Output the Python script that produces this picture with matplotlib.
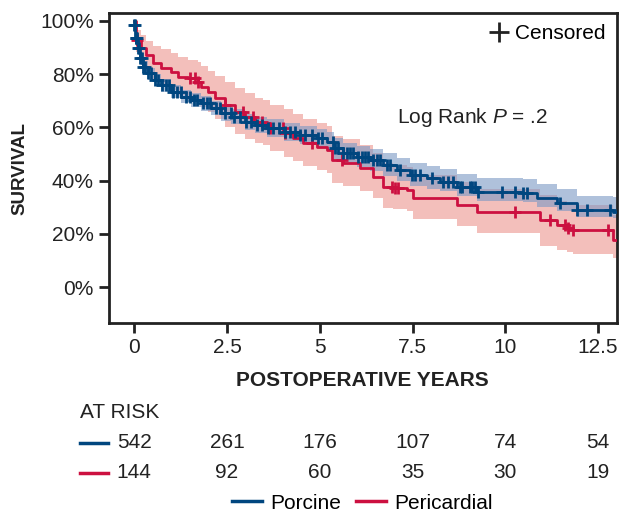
#!/usr/bin/env python3
"""
Kaplan-Meier survival, porcine vs pericardial valves, with at-risk table.
Output: out.png
"""

import matplotlib
matplotlib.use("Agg")
import matplotlib.pyplot as plt
import matplotlib.transforms as mtransforms
from matplotlib.lines import Line2D
import numpy as np

plt.rcParams["font.family"] = ["Liberation Sans", "DejaVu Sans"]
plt.rcParams["mathtext.fontset"] = "custom"
plt.rcParams["mathtext.rm"] = "Liberation Sans"
plt.rcParams["mathtext.it"] = "Liberation Sans:italic"

BLUE = "#00467f"
RED = "#cc1040"
BLUE_BAND = "#7a98c4"
RED_BAND = "#ec958e"
INK = "#222222"
FS = 15

MAX_FOLLOWUP = 13.0

# --- porcine (survival %, step knots, 95% band) ---
porcine_t = [0, 0.03, 0.09, 0.15, 0.23, 0.37, 0.55, 0.73, 1.0, 1.27, 1.54, 1.81, 2.08,
             2.35, 2.62, 2.98, 3.25, 3.58, 4.03, 4.47, 4.92, 5.19, 5.37, 5.63, 5.99,
             6.35, 6.71, 7.07, 7.43, 7.88, 8.24, 8.7, 9.23, 10.47, 10.85, 11.4, 11.94,
             12.9]
porcine_s = [98.5, 93.5, 89.7, 86, 82.8, 80.3, 77.8, 75.9, 73.4, 71.5, 70.3, 69, 67.2,
             65.3, 64, 62.1, 60.9, 59.7, 58.4, 57.1, 55.9, 54.6, 52.1, 50.3, 49,
             47.7, 45.9, 44, 42.1, 40.9, 39.5, 37.6, 35.7, 35.3, 33.5, 31.6, 29,
             28.2]
porcine_lo = [97.5, 91.5, 87.5, 83.5, 80.5, 78, 75.5, 73.5, 71, 69, 67.7, 66.3, 64.5,
              62.5, 61.2, 59.2, 57.8, 56.5, 55, 53.6, 52.3, 51, 48.3, 46.4, 45,
              43.6, 41.7, 39.9, 38, 37, 36, 34.2, 32.4, 32, 30.2, 28.5, 26.2,
              25.8]
porcine_hi = [99.5, 95.5, 92, 88.5, 85, 82.5, 80, 78.3, 76, 74, 73, 71.7, 70,
              68.2, 67, 65.1, 64, 63, 61.8, 60.6, 59.5, 58.3, 56, 54.3, 53,
              51.9, 50.2, 48.4, 46.6, 45.5, 44.5, 42.5, 41, 40.5, 38.8, 37, 34.3,
              33.8]
porcine_cens = [0, 0.02, 0.04, 0.06, 0.08, 0.1, 0.13, 0.16, 0.2, 0.25, 0.3, 0.38, 0.45,
                0.55, 0.65, 0.75, 0.85, 0.95, 1.05, 1.15, 1.25, 1.4, 1.5, 1.6, 1.7, 1.85,
                1.95, 2.05, 2.2, 2.3, 2.45, 2.6, 2.7, 2.85, 3.0, 3.15, 3.3, 3.45, 3.6,
                3.75, 3.9, 4.05, 4.2, 4.33, 4.47, 4.6, 4.79, 4.95, 5.06, 5.36, 5.41,
                5.49, 5.63, 5.73, 5.82, 5.9, 6.03, 6.14, 6.22, 6.3, 6.44, 6.54, 6.62,
                6.81, 6.89, 7.16, 7.48, 7.56, 7.7, 8.03, 8.32, 8.46, 8.59, 8.78, 8.83,
                9.05, 9.1, 9.18, 9.26, 9.91, 10.26, 10.47, 10.58, 11.47, 11.94, 12.21,
                12.82]

# --- pericardial ---
peri_t = [0, 0.06, 0.19, 0.32, 0.5, 0.73, 1.0, 1.18, 1.45, 1.72, 1.81, 1.99, 2.17,
          2.44, 2.71, 2.98, 3.25, 3.48, 3.66, 4.03, 4.29, 4.56, 4.92, 5.19, 5.32,
          5.63, 6.09, 6.44, 6.71, 6.98, 7.34, 7.52, 8.7, 9.23, 10.93, 11.4, 11.66,
          11.83, 12.9]
peri_s = [100, 92.9, 89.7, 87.2, 84.1, 82.2, 80.9, 79, 78.4, 77.2, 75.3, 73.4, 70.9,
          68.4, 65.9, 64, 62.1, 61.5, 59.7, 57.8, 55.9, 54, 52.7, 51.5, 47.7,
          46.5, 44.6, 41.5, 37.7, 37.1, 36.5, 33.3, 30.8, 28.2, 25.2, 23.3, 22.2,
          21.4, 17.7]
peri_lo = [100, 88.5, 84.5, 81.5, 78, 75.5, 74, 72, 71.3, 69.8, 67.8, 65.8, 63,
           60.2, 57.5, 55.5, 54, 53.5, 51.3, 49, 47.3, 45.5, 44, 42.8, 39.2,
           38, 36.2, 33.3, 29.8, 29.2, 28.6, 25.6, 23, 20.5, 15.5, 14, 13,
           12.5, 11]
peri_hi = [100, 96.5, 94.7, 92.5, 90.5, 89.5, 87.8, 86.5, 85.5, 84.5, 83, 81.3, 79.2,
           77, 75, 73, 71, 70.3, 68.5, 66.8, 65, 63, 61.7, 60.5, 56.8,
           55.5, 53.5, 50.5, 46.5, 46, 45.3, 42, 39.5, 37, 34.5, 32.5, 31.5,
           30.8, 27]
peri_cens = [0.08, 1.5, 1.64, 1.72, 2.45, 2.93, 3.2, 3.44, 3.66, 4.0, 4.06, 4.79, 5.6,
             6.95, 7.03, 7.11, 10.26, 11.2, 11.6, 11.69, 11.83, 12.77]

risk_times = [0, 2.5, 5, 7.5, 10, 12.5]
porcine_risk = [542, 261, 176, 107, 74, 54]
peri_risk = [144, 92, 60, 35, 30, 19]


def step_value(t_knots, s_knots, t):
    idx = np.searchsorted(t_knots, t, side="right") - 1
    return np.asarray(s_knots)[np.clip(idx, 0, len(s_knots) - 1)]


def draw_group(ax, t, s, lo, hi, cens, color, band, band_alpha, z):
    tt = list(t) + [MAX_FOLLOWUP]
    ax.fill_between(tt, list(lo) + [lo[-1]], list(hi) + [hi[-1]], step="post",
                    color=band, alpha=band_alpha, linewidth=0, zorder=z)
    ax.step(tt, list(s) + [s[-1]], where="post", color=color, linewidth=2, zorder=z + 2)
    cy = step_value(t, s, np.asarray(cens))
    ax.plot(cens, cy, linestyle="none", marker="+", markersize=8, mew=2,
            color=color, zorder=z + 3)


fig = plt.figure(figsize=(6.21, 5.14), dpi=100)
ax = fig.add_axes([0.1755, 0.3716, 0.8175, 0.6031])

draw_group(ax, peri_t, peri_s, peri_lo, peri_hi, peri_cens, RED, RED_BAND, 0.6, 1)
draw_group(ax, porcine_t, porcine_s, porcine_lo, porcine_hi, porcine_cens, BLUE, BLUE_BAND, 0.6, 2)

ax.set_xlim(-0.68, 13.0)
ax.set_ylim(-13.5, 103)
ax.set_xticks(risk_times)
ax.set_xticklabels(["0", "2.5", "5", "7.5", "10", "12.5"])
ax.set_yticks([0, 20, 40, 60, 80, 100])
ax.set_yticklabels([f"{v}%" for v in [0, 20, 40, 60, 80, 100]])
ax.tick_params(direction="out", length=7, width=2, color=INK, labelsize=FS,
               labelcolor=INK, pad=4)
for sp in ax.spines.values():
    sp.set_linewidth(2)
    sp.set_color(INK)

ax.set_xlabel("POSTOPERATIVE YEARS", fontsize=FS, fontweight="bold", color=INK, labelpad=10)
ax.set_ylabel("SURVIVAL", fontsize=13.5, fontweight="bold", color=INK, labelpad=8)

ax.text(0.567, 0.664, r"Log Rank $\it{P}$ = .2", transform=ax.transAxes,
        fontsize=FS, color=INK, va="center", ha="left")

cens_handle = Line2D([], [], linestyle="none", marker="+", markersize=14, mew=2, color=INK)
ax.legend([cens_handle], ["Censored"], loc="upper right", frameon=False, fontsize=FS,
          handlelength=0.9, handletextpad=0.3, borderaxespad=0.35, borderpad=0.2)

# at-risk table
trans = mtransforms.blended_transform_factory(ax.transData, fig.transFigure)
fig.text(80 / 621, 1 - 412 / 514, "AT RISK", fontsize=FS, color=INK, va="center", ha="left")
for row_y, counts, color in [(443, porcine_risk, BLUE), (473, peri_risk, RED)]:
    yf = 1 - row_y / 514
    fig.add_artist(Line2D([80 / 621, 108 / 621], [yf, yf], color=color, linewidth=2.5))
    for t, n in zip(risk_times, counts):
        ax.text(t, yf, str(n), transform=trans, fontsize=FS, color=INK,
                ha="center", va="center")

handles = [Line2D([], [], color=BLUE, linewidth=2.5), Line2D([], [], color=RED, linewidth=2.5)]
fig.legend(handles, ["Porcine", "Pericardial"], loc="center", bbox_to_anchor=(0.583, 0.021),
           ncol=2, frameon=False, fontsize=FS, handlelength=1.45, handletextpad=0.4,
           columnspacing=0.7, borderpad=0, borderaxespad=0)

fig.savefig("out.png", dpi=100)
